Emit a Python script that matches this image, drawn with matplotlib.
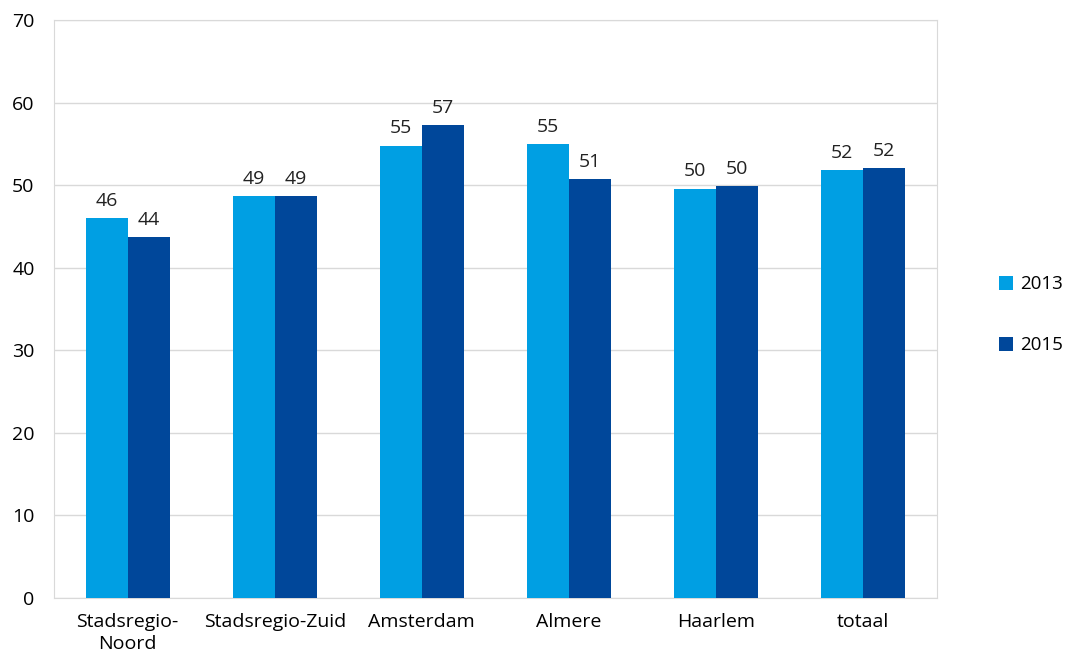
import numpy as np
import matplotlib.pyplot as plt

plt.rcParams['font.family'] = ['Open Sans', 'DejaVu Sans']

categories = ['Stadsregio-\nNoord', 'Stadsregio-Zuid', 'Amsterdam', 'Almere', 'Haarlem', 'totaal']
vals_2013 = [46.0, 48.7, 54.8, 55.0, 49.6, 51.8]
vals_2015 = [43.7, 48.7, 57.3, 50.7, 49.9, 52.1]
labels_2013 = ['46', '49', '55', '55', '50', '52']
labels_2015 = ['44', '49', '57', '51', '50', '52']

c13 = '#009FE3'
c15 = '#00479A'
fs = 14

fig = plt.figure(figsize=(10.7, 6.56), dpi=100)
ax = fig.add_axes([0.0505, 0.0884, 0.825, 0.881])

x = np.arange(len(categories))
w = 0.285
b1 = ax.bar(x - w / 2, vals_2013, w, color=c13, label='2013', zorder=3)
b2 = ax.bar(x + w / 2, vals_2015, w, color=c15, label='2015', zorder=3)
ax.bar_label(b1, labels=labels_2013, padding=6, fontsize=fs, color='#222222')
ax.bar_label(b2, labels=labels_2015, padding=6, fontsize=fs, color='#222222')

ax.set_xlim(-0.5, len(categories) - 0.5)
ax.set_ylim(0, 70)
ax.set_yticks(range(0, 71, 10))
ax.set_xticks(x)
ax.set_xticklabels(categories, fontsize=fs, linespacing=1.25)
ax.tick_params(axis='y', labelsize=fs, length=0, pad=14)
ax.tick_params(axis='x', length=0, pad=11)
ax.yaxis.grid(True, color='#D9D9D9', linewidth=1, zorder=0)
for s in ax.spines.values():
    s.set_color('#D9D9D9')

fig.legend(handles=[b1, b2], loc='center left', bbox_to_anchor=(0.918, 0.52),
           frameon=False, fontsize=13.5, labelspacing=2.3, handlelength=0.75,
           handleheight=0.75, handletextpad=0.35)

fig.savefig('out.png', dpi=100)
